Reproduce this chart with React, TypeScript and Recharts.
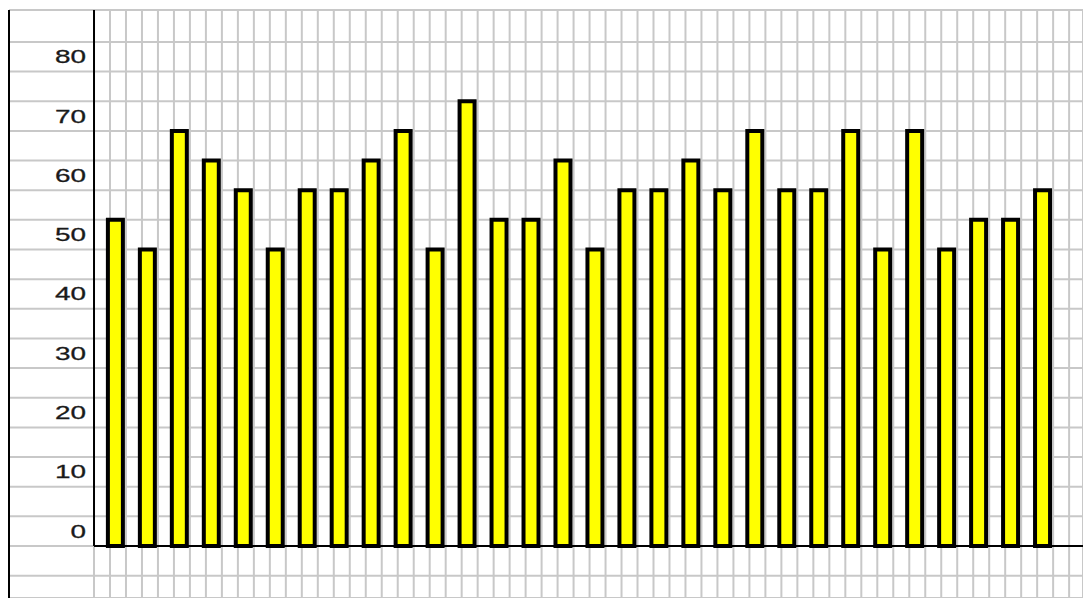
import React from "react";
import { BarChart, Bar, XAxis, YAxis, CartesianGrid, ReferenceLine } from "recharts";

// ---- data ----
const categories = Array.from({ length: 30 }, (_, i) => i + 1);
const values = [55, 50, 70, 65, 60, 50, 60, 60, 65, 70, 50, 75, 55, 55, 65, 50, 60, 60, 65, 60, 70, 60, 60, 70, 50, 70, 50, 55, 55, 60];
const yTicks = [-5, 0, 5, 10, 15, 20, 25, 30, 35, 40, 45, 50, 55, 60, 65, 70, 75, 80, 85];
const yLabelValues = [0, 10, 20, 30, 40, 50, 60, 70, 80];

const data = categories.map((c, i) => ({ x: c, value: values[i] }));

// ---- layout ----
const W = 1083;
const H = 598;
const X_MIN = -2.343;
const X_MAX = 31.25;
const AXIS_X = 0.316; // where the value axis sits, in category units
const Y_MIN = -8.77;
const Y_MAX = 90.39;
const gridX = Array.from({ length: 62 }, (_, k) => AXIS_X + k / 2);

const YTick = (props: any) => {
  const { y, payload } = props;
  const v = payload.value;
  if (!yLabelValues.includes(v)) return <g />;
  const s = String(v);
  return (
    <text
      x={86}
      y={y - 8.4}
      textAnchor="end"
      fontFamily="'Liberation Sans', Arial, sans-serif"
      fontSize={18.5}
      fill="#1a1a1a"
      stroke="#1a1a1a"
      strokeWidth={0.3}
      textLength={15.5 * s.length}
      lengthAdjust="spacingAndGlyphs"
    >
      {s}
    </text>
  );
};

export default function App() {
  return (
    <div style={{ position: "absolute", left: 0, top: 0, width: W, height: H, background: "#fff" }}>
      <BarChart width={W} height={H} data={data} margin={{ top: 10, left: 9, right: 0, bottom: 0 }}>
        <CartesianGrid stroke="#c8c8c8" strokeWidth={2} />
        <XAxis
          dataKey="x"
          type="number"
          domain={[X_MIN, X_MAX]}
          allowDataOverflow
          ticks={gridX}
          interval={0}
          hide
        />
        <YAxis
          type="number"
          domain={[Y_MIN, Y_MAX]}
          allowDataOverflow
          ticks={yTicks}
          interval={0}
          mirror
          tickLine={false}
          axisLine={{ stroke: "#000", strokeWidth: 2 }}
          tick={YTick}
        />
        <Bar dataKey="value" fill="#ffff00" stroke="#000" strokeWidth={4} barSize={15} isAnimationActive={false} />
        <ReferenceLine
          segment={[{ x: AXIS_X, y: 0 }, { x: AXIS_X, y: Y_MAX }]}
          stroke="#000"
          strokeWidth={2}
        />
        <ReferenceLine
          segment={[{ x: AXIS_X, y: 0 }, { x: X_MAX, y: 0 }]}
          stroke="#000"
          strokeWidth={2}
        />
      </BarChart>
    </div>
  );
}
